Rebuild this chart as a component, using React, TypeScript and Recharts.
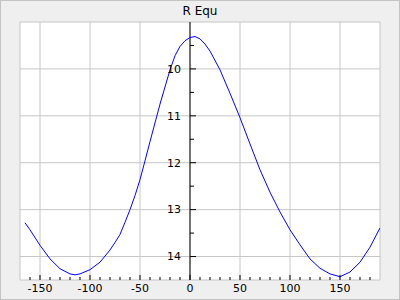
import {
  LineChart,
  Line,
  XAxis,
  YAxis,
  ReferenceArea,
  ReferenceLine,
  ReferenceDot,
} from "recharts";

// angle (deg) vs R Equ
const angles = [
  -165, -160, -150, -140, -130, -120, -115, -110, -100, -90, -80, -75, -70, -65,
  -60, -55, -50, -45, -40, -30, -20, -15, -10, -5, 0, 5, 10, 15, 20, 30, 40, 50,
  60, 70, 80, 90, 100, 110, 120, 130, 140, 150, 160, 170, 180, 190,
];
const rEqu = [
  13.28, 13.43, 13.76, 14.05, 14.26, 14.37, 14.39, 14.37, 14.28, 14.12, 13.86,
  13.7, 13.53, 13.27, 13.0, 12.7, 12.36, 11.96, 11.55, 10.75, 10.02, 9.72, 9.52,
  9.4, 9.33, 9.31, 9.36, 9.47, 9.62, 10.02, 10.52, 11.04, 11.6, 12.15, 12.63,
  13.05, 13.43, 13.75, 14.05, 14.25, 14.37, 14.43, 14.33, 14.12, 13.8, 13.39,
];

const X_MIN = -170;
const X_MAX = 190;
const Y_MIN = 9;
const Y_MAX = 14.5;

const xMajor = [-150, -100, -50, 0, 50, 100, 150];
const xTicks = [-160, -150, -140, -130, -120, -110, -100, -90, -80, -70, -60, -50, -40, -30, -20, -10, 0, 10, 20, 30, 40, 50, 60, 70, 80, 90, 100, 110, 120, 130, 140, 150, 160, 170, 180];
const yMajor = [10, 11, 12, 13, 14];
const yTicks = [9.5, 10, 10.5, 11, 11.5, 12, 12.5, 13, 13.5, 14];

const data = angles.map((x, i) => ({ x, r: rEqu[i] }));

const FONT = "DejaVu Sans, sans-serif";
const GRID = "#c6c6c6";

const XTick = (props: any) => {
  const { x, y, payload } = props;
  const major = payload.value % 50 === 0;
  return (
    <g>
      <line x1={x} y1={y} x2={x} y2={y - (major ? 5 : 3)} stroke="#000" />
      {major && (
        <text x={x} y={y + 12} textAnchor="middle" fontSize={11} fontFamily={FONT} fill="#000">
          {payload.value}
        </text>
      )}
    </g>
  );
};

const YTickMark = (value: number) => (props: any) => {
  const { cx, cy } = props;
  const major = value % 1 === 0;
  return (
    <g>
      <line x1={cx} y1={cy} x2={cx + (major ? 6 : 4)} y2={cy} stroke="#000" />
      {major && (
        <text x={cx - 9} y={cy} dy="0.35em" textAnchor="end" fontSize={11} fontFamily={FONT} fill="#000">
          {value}
        </text>
      )}
    </g>
  );
};

export default function App() {
  return (
    <div
      style={{
        position: "absolute",
        left: 0,
        top: 0,
        width: 400,
        height: 300,
        boxSizing: "border-box",
        border: "1px solid #c3c3c3",
        background: "#efefef",
      }}
    >
      <div
        style={{
          position: "absolute",
          left: 0,
          top: 3,
          width: 398,
          textAlign: "center",
          fontFamily: FONT,
          fontSize: 12,
          color: "#000",
        }}
      >
        R Equ
      </div>
      <LineChart
        width={398}
        height={298}
        data={data}
        margin={{ top: 21, right: 19, bottom: 0, left: 19 }}
      >
        <XAxis
          type="number"
          dataKey="x"
          domain={[X_MIN, X_MAX]}
          allowDataOverflow
          ticks={xTicks}
          interval={0}
          height={19}
          tickSize={0}
          tickMargin={0}
          tickLine={false}
          axisLine={false}
          tick={<XTick />}
        />
        <YAxis
          type="number"
          domain={[Y_MIN, Y_MAX]}
          reversed
          allowDataOverflow
          width={0}
          tick={false}
          tickLine={false}
          axisLine={false}
        />
        <ReferenceArea
          x1={X_MIN}
          x2={X_MAX}
          y1={Y_MIN}
          y2={Y_MAX}
          fill="#fff"
          fillOpacity={1}
          stroke={GRID}
          ifOverflow="extendDomain"
        />
        {xMajor.map((v) => (
          <ReferenceLine key={"gx" + v} x={v} stroke={GRID} />
        ))}
        {yMajor.map((v) => (
          <ReferenceLine key={"gy" + v} y={v} stroke={GRID} />
        ))}
        <ReferenceLine x={0} stroke="#000" />
        {yTicks.map((v) => (
          <ReferenceDot key={"yt" + v} x={0} y={v} r={0} shape={YTickMark(v)} />
        ))}
        <Line
          type="linear"
          dataKey="r"
          stroke="#0000ff"
          strokeWidth={1}
          dot={false}
          isAnimationActive={false}
        />
      </LineChart>
    </div>
  );
}
